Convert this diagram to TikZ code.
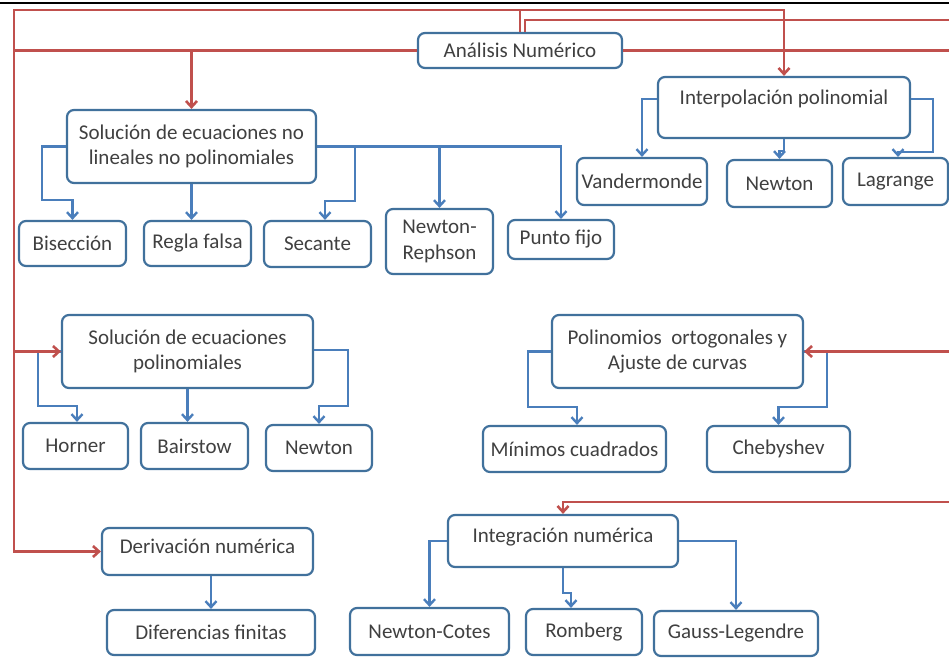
\documentclass[tikz,border=0pt]{standalone}
\usepackage{fontspec}
\setmainfont{Carlito}
\usetikzlibrary{arrows.meta}
\definecolor{boxc}{HTML}{41719C}
\definecolor{bluec}{HTML}{4A7EBB}
\definecolor{redc}{HTML}{C0504D}
\definecolor{txt}{HTML}{404040}
\tikzset{
  box/.style={draw=boxc, line width=2.2pt, rounded corners=7pt, fill=white, text=txt,
    align=center, inner sep=0pt, font=\fontsize{21}{25.6}\selectfont},
  bl/.style={draw=bluec, line width=2.4pt},
  rl/.style={draw=redc, line width=2.6pt},
  arr/.style={-{Straight Barb[length=6pt,width=11pt]}}
}
\begin{document}
\begin{tikzpicture}[x=1pt,y=-1pt]
\useasboundingbox (0,0) rectangle (949,658);
\draw[line width=2.5pt] (0,3) -- (949,3);

% nodes
\node[box, minimum width=204pt, minimum height=35pt] (an) at (520,50.5) {Análisis Numérico};
\node[box, minimum width=249pt, minimum height=73pt] (sol) at (191.5,146.5) {Solución de ecuaciones no\\lineales no polinomiales};
\node[box, minimum width=107pt, minimum height=45pt] (bis) at (72.5,243.5) {Bisección};
\node[box, minimum width=107pt, minimum height=45pt] (reg) at (197.5,243.5) {Regla falsa};
\node[box, minimum width=107pt, minimum height=46pt] (sec) at (317.5,244) {Secante};
\node[box, minimum width=107pt, minimum height=65pt] (nr) at (439.5,241.5) {Newton-\\Rephson};
\node[box, minimum width=106pt, minimum height=39pt] (pf) at (561,239.5) {Punto fijo};
\node[box, minimum width=252pt, minimum height=61pt, text height=15pt, text depth=21pt] (interp) at (784,107.5) {Interpolación polinomial};
\node[box, minimum width=130pt, minimum height=47pt] (vand) at (642,181.5) {Vandermonde};
\node[box, minimum width=105pt, minimum height=47pt] (newt) at (779.5,183.5) {Newton};
\node[box, minimum width=105pt, minimum height=47pt] (lag) at (895.5,181.5) {Lagrange};
\node[box, minimum width=251pt, minimum height=73pt] (solp) at (187.5,351.5) {Solución de ecuaciones\\polinomiales};
\node[box, minimum width=105pt, minimum height=46pt] (horn) at (75.5,446) {Horner};
\node[box, minimum width=107pt, minimum height=46pt] (bair) at (194.5,446) {Bairstow};
\node[box, minimum width=106pt, minimum height=46pt] (newp) at (319,448) {Newton};
\node[box, minimum width=251pt, minimum height=73pt] (pol) at (677.5,351.5) {Polinomios\ \ ortogonales y\\Ajuste de curvas};
\node[box, minimum width=183pt, minimum height=46pt] (mc) at (574.5,449) {Mínimos cuadrados};
\node[box, minimum width=143pt, minimum height=46pt] (cheb) at (778.5,449) {Chebyshev};
\node[box, minimum width=211pt, minimum height=47pt, text height=15pt, text depth=12pt] (der) at (207.5,551.5) {Derivación numérica};
\node[box, minimum width=208pt, minimum height=45pt] (dif) at (211,632.5) {Diferencias finitas};
\node[box, minimum width=230pt, minimum height=52pt, text height=15pt, text depth=13pt] (integ) at (563,541) {Integración numérica};
\node[box, minimum width=159pt, minimum height=47pt] (nc) at (429.5,631.5) {Newton-Cotes};
\node[box, minimum width=116pt, minimum height=46pt] (rom) at (584,632) {Romberg};
\node[box, minimum width=164pt, minimum height=45pt] (gl) at (736,633.5) {Gauss-Legendre};

% blue connectors
\draw[bl,arr] (sol.west) -| (42,200) -| (bis.north);
\draw[bl,arr] (sol.south) -- (sol.south |- reg.north);
\draw[bl,arr] (sol.east) -| (pf.north);
\draw[bl,arr] (355,146.5) |- (325,201) -- ([xshift=7.5pt]sec.north);
\draw[bl,arr] (nr.north |- sol.east) -- (nr.north);
\draw[bl,arr] ([yshift=8.5pt]interp.west) -| (vand.north);
\draw[bl,arr] (interp.south) -- ++(0,12) -| (newt.north);
\draw[bl,arr] ([yshift=8.5pt]interp.east) -| (933,152) -| ([xshift=2.5pt]lag.north);
\draw[bl,arr] (solp.west) -| (38,406) -| ([xshift=1.5pt]horn.north);
\draw[bl,arr] (solp.south) -- (solp.south |- bair.north);
\draw[bl,arr] ([yshift=1.5pt]solp.east) -| (348,406) -| (newp.north);
\draw[bl,arr] (pol.west) -| (528,407) -| ([xshift=2.5pt]mc.north);
\draw[bl,arr] (pol.east) -| (827,407) -| (cheb.north);
\draw[bl,arr] (dif.north |- der.south) -- (dif.north);
\draw[bl,arr] (integ.west) -| (nc.north);
\draw[bl,arr] (integ.south) -- ++(0,25) -| ([xshift=-13pt]rom.north);
\draw[bl,arr] (integ.east) -| (gl.north);

% red connectors
\draw[rl,arr] (an.north) |- (14,10) |- (der.west);
\draw[rl,arr] (520,10) -| (interp.north);
\draw[rl] ([xshift=5pt]an.north) |- (949,20);
\draw[rl] (an.west) -- (14,50.5);
\draw[rl] (an.east) -- (949,50.5);
\draw[rl,arr] (sol.north |- an.west) -- (sol.north);
\draw[rl,arr] (14,351.5) -- (solp.west);
\draw[rl,arr] (949,351.5) -- (pol.east);
\draw[rl,arr] (949,502) -| (integ.north);
\end{tikzpicture}
\end{document}
